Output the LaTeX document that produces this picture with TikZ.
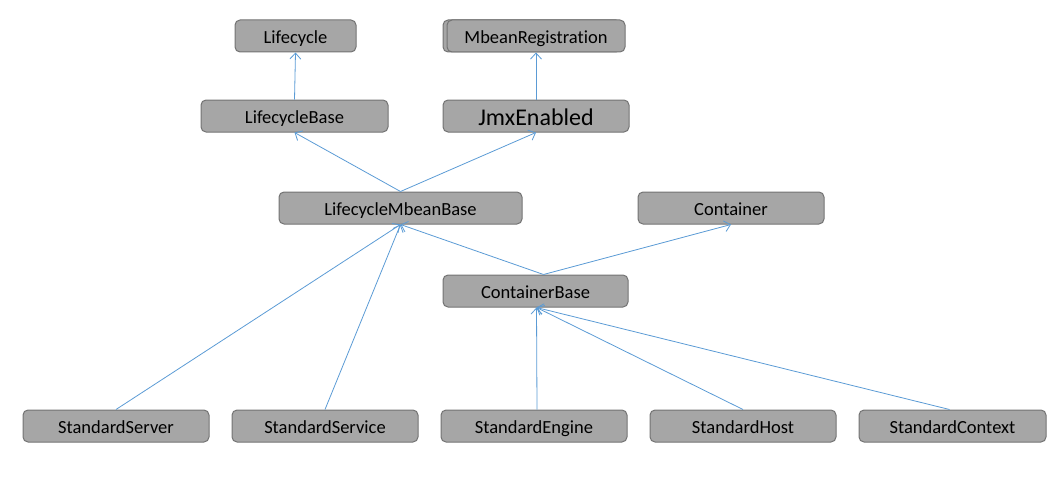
\documentclass[tikz,border=0pt]{standalone}
\usepackage{fontspec}
\setmainfont[RawFeature={-liga;-clig;-dlig}]{Carlito}
\usetikzlibrary{arrows.meta}
\definecolor{boxfill}{HTML}{A6A6A6}
\definecolor{boxline}{HTML}{737373}
\definecolor{arrowblue}{HTML}{5B9BD5}
\tikzset{
  box/.style={draw=boxline, fill=boxfill, line width=1pt, rounded corners=5pt,
    minimum height=32pt, inner sep=0pt, text height=16pt, text depth=1.5pt,
    font=\fontsize{18.5}{22}\selectfont, text=black},
  bigtext/.style={font=\fontsize{24}{28}\selectfont, text height=20pt, text depth=2pt},
  inh/.style={draw=arrowblue, line width=0.8pt, -{Straight Barb[length=6pt,width=11pt,line width=0.8pt]}}
}
\begin{document}
\begin{tikzpicture}[x=1pt,y=-1pt]
\useasboundingbox (0,0) rectangle (1062,487);
\node[box, minimum width=121pt] (lc) at (295.5,36) {Lifecycle};
\node[box, minimum width=178pt] (mbback) at (532,36) {};
\node[box, minimum width=178pt] (mb) at (536,36) {MbeanRegistration};
\node[box, minimum width=187pt] (lcb) at (294.5,116) {LifecycleBase};
\node[box, bigtext, minimum width=186pt] (jmx) at (536,116) {JmxEnabled};
\node[box, minimum width=243pt] (lmb) at (400.5,208) {LifecycleMbeanBase};
\node[box, minimum width=186pt] (ct) at (731,208) {Container};
\node[box, minimum width=185pt] (cb) at (535.5,291) {ContainerBase};
\node[box, minimum width=186pt] (ssv) at (116,426) {StandardServer};
\node[box, minimum width=186pt] (ssc) at (325,426) {StandardService};
\node[box, minimum width=186pt] (se) at (534,426) {StandardEngine};
\node[box, minimum width=186pt] (sh) at (743,426) {StandardHost};
\node[box, minimum width=187pt] (sctx) at (952.5,426) {StandardContext};

\draw[inh] (lcb.north) -- (lc.south);
\draw[inh] (jmx.north) -- (mb.south);
\draw[inh] (lmb.north) -- (lcb.south);
\draw[inh] (lmb.north) -- (jmx.south);
\draw[inh] ([xshift=8pt]cb.north) -- (lmb.south);
\draw[inh] ([xshift=8pt]cb.north) -- (ct.south);
\draw[inh] (ssv.north) -- (lmb.south);
\draw[inh] (ssc.north) -- (lmb.south);
\draw[inh] ([xshift=3pt]se.north) -- ([xshift=1pt]cb.south);
\draw[inh] (sh.north) -- ([xshift=1pt]cb.south);
\draw[inh] ([xshift=-3pt]sctx.north) -- ([xshift=1pt]cb.south);
\end{tikzpicture}
\end{document}
